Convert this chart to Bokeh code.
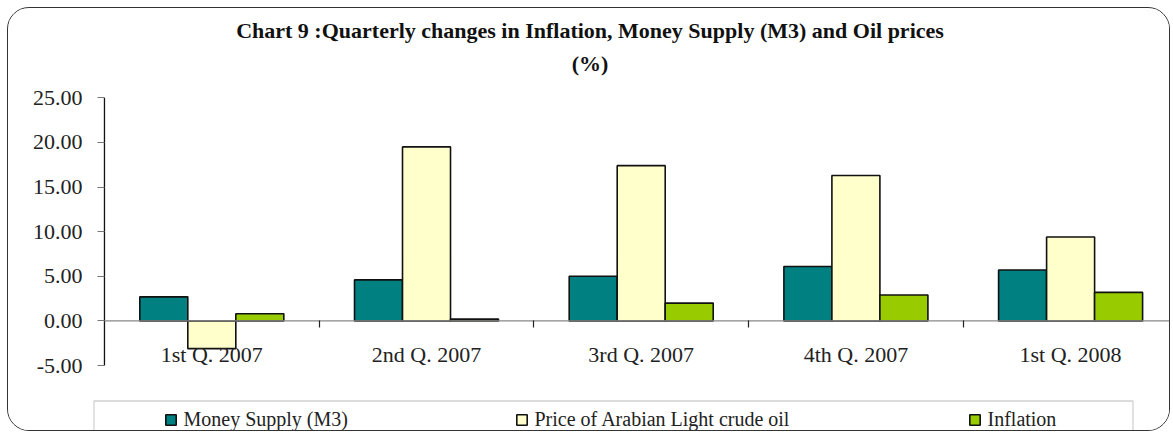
import numpy as np
from bokeh.plotting import figure
from bokeh.models import (Range1d, FixedTicker, NumeralTickFormatter, Title,
                          Legend, LegendItem, BoxAnnotation, ColumnDataSource)
from bokeh.embed import file_html
from bokeh.resources import INLINE

# ---- data ----
categories = ["1st Q. 2007", "2nd Q. 2007", "3rd Q. 2007", "4th Q. 2007", "1st Q. 2008"]
money_supply = [2.7, 4.6, 5.0, 6.1, 5.7]
oil_price = [-3.1, 19.5, 17.4, 16.3, 9.4]
inflation = [0.8, 0.2, 2.0, 2.9, 3.2]
series_names = ["Money Supply (M3)", "Price of Arabian Light crude oil", "Inflation"]
y_ticks = [-5, 0, 5, 10, 15, 20, 25]
title_line1 = "Chart 9 :Quarterly changes in Inflation, Money Supply (M3) and Oil prices"
title_line2 = "(%)"

# ---- style / layout ----
FONT = "Liberation Serif"
COLORS = ["#008080", "#FFFFCC", "#99CC00"]
W, H = 1163, 424
BAR_W = 0.2236
X_START, X_END = -0.447, 4.97
Y_START, Y_END = -12.5, 27.5

centers = np.arange(len(categories)) + 0.5

p = figure(width=W, height=H, output_backend="svg", toolbar_location=None,
           x_range=Range1d(X_START, X_END), y_range=Range1d(Y_START, Y_END),
           min_border_left=0, min_border_right=0, min_border_top=67,
           min_border_bottom=0)
p.styles = {"margin-left": "7px", "margin-top": "7px",
            "border": "1.5px solid #333333", "border-radius": "22px",
            "overflow": "hidden"}
p.grid.visible = False
p.outline_line_color = None
p.background_fill_color = "white"
p.border_fill_color = "white"

series = [money_supply, oil_price, inflation]
renderers = []
for i, (vals, col) in enumerate(zip(series, COLORS)):
    src = ColumnDataSource(dict(x=centers + (i - 1) * BAR_W, top=vals))
    r = p.vbar(x="x", top="top", bottom=0, width=BAR_W, source=src,
               fill_color=col, line_color="#111111", line_width=1.6)
    renderers.append(r)

# axis lines (value axis from first to last tick, category axis along zero)
p.segment(x0=[0], y0=[y_ticks[0]], x1=[0], y1=[y_ticks[-1]],
          line_color="#111111", line_width=1.3)
p.segment(x0=[0], y0=[0], x1=[X_END], y1=[0],
          line_color="#888888", line_width=1.2)

# y axis, drawn at x = 0
yax = p.yaxis[0]
yax.fixed_location = 0
yax.ticker = FixedTicker(ticks=y_ticks)
yax.formatter = NumeralTickFormatter(format="0.00")
yax.axis_line_color = None
yax.major_tick_out = 7
yax.major_tick_in = 0
yax.major_tick_line_color = "#777777"
yax.major_tick_line_width = 1.2
yax.minor_tick_line_color = None
yax.major_label_standoff = 15
yax.major_label_text_font = FONT
yax.major_label_text_font_size = "22px"
yax.major_label_text_color = "#222222"

# x axis, drawn at y = 0
xax = p.xaxis[0]
xax.fixed_location = 0
xax.ticker = FixedTicker(ticks=list(centers), minor_ticks=list(np.arange(1, len(categories))))
xax.major_label_overrides = {float(c): lab for c, lab in zip(centers, categories)}
xax.axis_line_color = None
xax.major_tick_line_color = None
xax.major_tick_out = 0
xax.major_tick_in = 0
xax.minor_tick_out = 7
xax.minor_tick_in = 0
xax.minor_tick_line_color = "#222222"
xax.minor_tick_line_width = 1.2
xax.major_label_standoff = 14
xax.major_label_text_font = FONT
xax.major_label_text_font_size = "22px"
xax.major_label_text_color = "#222222"

# titles (stacked outward from the plot frame)
p.title.visible = False
t2 = Title(text=title_line2, align="center", text_font=FONT, text_font_size="22px",
           text_font_style="bold", text_color="#111111", standoff=0)
t1 = Title(text=title_line1, align="center", text_font=FONT, text_font_size="22px",
           text_font_style="bold", text_color="#111111", standoff=12)
p.add_layout(t2, "above")
p.add_layout(t1, "above")

# legend box
p.add_layout(BoxAnnotation(left=84.5, right=1123.5, top=391.5, bottom=460,
                           left_units="canvas", right_units="canvas",
                           top_units="canvas", bottom_units="canvas",
                           fill_color=None, line_color="#666666", line_width=1.3))

legend_x = [155.5, 506.5, 959.5]
for name, r, lx in zip(series_names, renderers, legend_x):
    lg = Legend(items=[LegendItem(label=name, renderers=[r])],
                location=(lx, 1), orientation="horizontal",
                border_line_color=None, background_fill_alpha=0,
                padding=0, margin=0, glyph_width=13, glyph_height=13,
                label_standoff=7, label_text_font=FONT,
                label_text_font_size="20px", label_text_color="#222222")
    p.add_layout(lg, "center")

open("out.html", "w").write(file_html(p, INLINE))
